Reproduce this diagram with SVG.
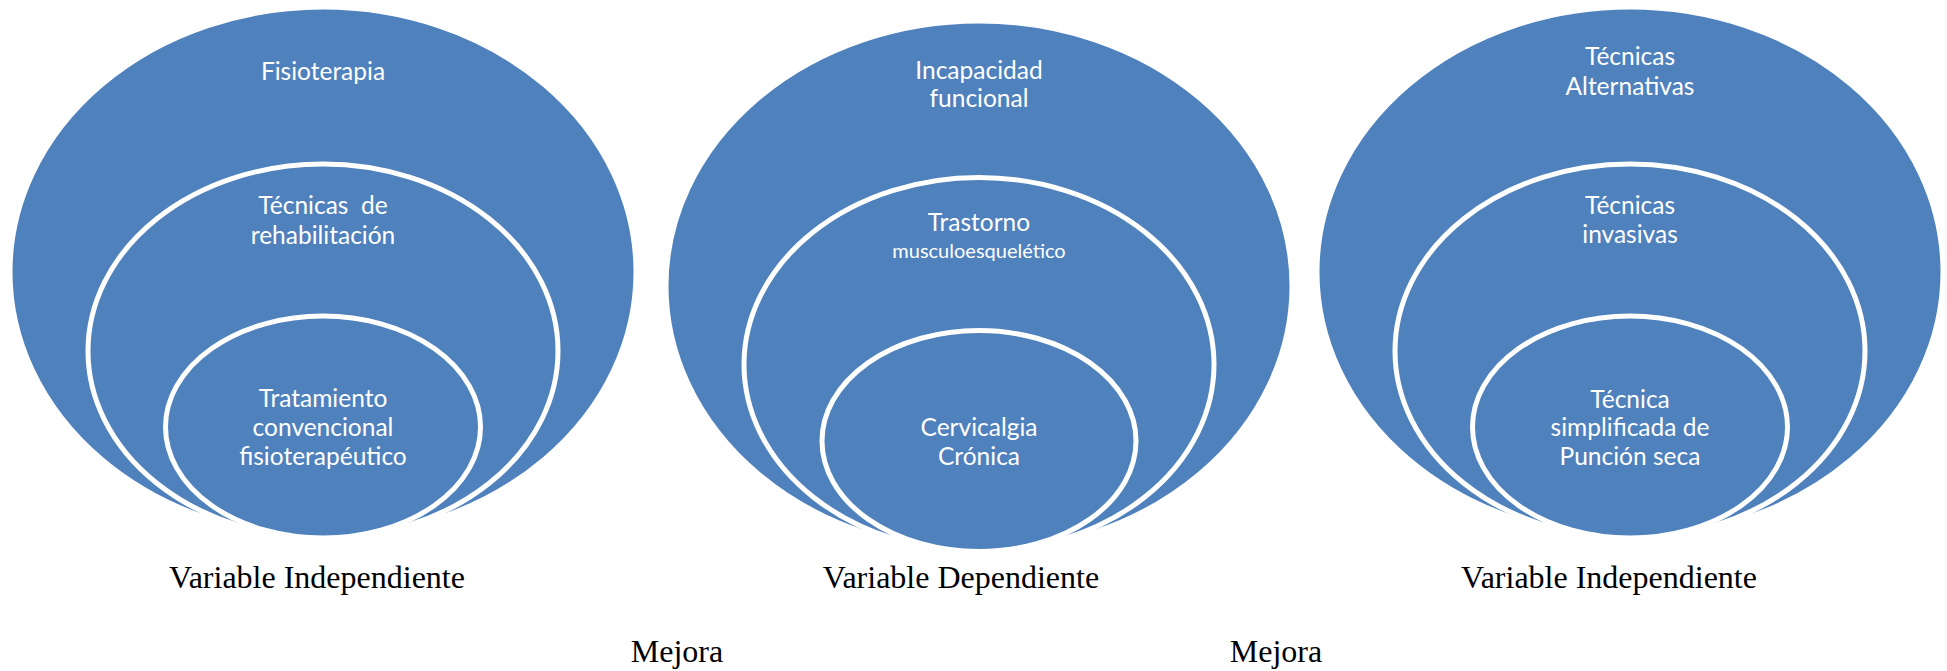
<svg xmlns="http://www.w3.org/2000/svg" width="1947" height="671" viewBox="0 0 1947 671">
<style>
.e{fill:#4F81BD;stroke:#FFFFFF;stroke-width:5}
.t{font-family:Lato,"Open Sans","Noto Sans",sans-serif;font-size:24.5px;fill:#FFFFFF;text-anchor:middle}
.s{font-size:20px}
.l{font-family:"Liberation Serif","Times New Roman",serif;font-size:32px;fill:#000000;text-anchor:middle}
</style>
<rect width="1947" height="671" fill="#FFFFFF"/>
<g id="left">
<g id="n-fisioterapia">
<ellipse class="e" cx="323" cy="272" rx="313" ry="265"/>
<text class="t" x="323" y="80">Fisioterapia</text>
</g>
<g id="n-tecnicas-rehab">
<ellipse class="e" cx="323" cy="351" rx="235" ry="187"/>
<text class="t" x="323" y="214" xml:space="preserve">Técnicas  de</text>
<text class="t" x="323" y="243.5">rehabilitación</text>
</g>
<g id="n-tratamiento">
<ellipse class="e" cx="323" cy="427" rx="157.5" ry="111"/>
<text class="t" x="323" y="407">Tratamiento</text>
<text class="t" x="323" y="436">convencional</text>
<text class="t" x="323" y="465">fisioterapéutico</text>
</g>
</g>
<g id="center">
<g id="n-incapacidad">
<ellipse class="e" cx="979" cy="286" rx="313" ry="265"/>
<text class="t" x="979" y="79">Incapacidad</text>
<text class="t" x="979" y="107">funcional</text>
</g>
<g id="n-trastorno">
<ellipse class="e" cx="979" cy="364.5" rx="235" ry="187"/>
<text class="t" x="979" y="231">Trastorno</text>
<text class="t s" x="979" y="257.5">musculoesquelético</text>
</g>
<g id="n-cervicalgia">
<ellipse class="e" cx="979" cy="441" rx="157" ry="110.5"/>
<text class="t" x="979" y="436">Cervicalgia</text>
<text class="t" x="979" y="465">Crónica</text>
</g>
</g>
<g id="right">
<g id="n-alternativas">
<ellipse class="e" cx="1630" cy="272" rx="313" ry="265"/>
<text class="t" x="1630" y="65">Técnicas</text>
<text class="t" x="1630" y="95">Alternativas</text>
</g>
<g id="n-invasivas">
<ellipse class="e" cx="1630" cy="351" rx="235" ry="187"/>
<text class="t" x="1630" y="214">Técnicas</text>
<text class="t" x="1630" y="243">invasivas</text>
</g>
<g id="n-puncion">
<ellipse class="e" cx="1630" cy="427" rx="157.5" ry="111"/>
<text class="t" x="1630" y="408">Técnica</text>
<text class="t" x="1630" y="436">simplificada de</text>
<text class="t" x="1630" y="465">Punción seca</text>
</g>
</g>
<g id="connectors"></g>
<g id="labels">
<text class="l" x="317" y="588">Variable Independiente</text>
<text class="l" x="961" y="588">Variable Dependiente</text>
<text class="l" x="1609" y="588">Variable Independiente</text>
<text class="l" x="677" y="662">Mejora</text>
<text class="l" x="1276" y="662">Mejora</text>
</g>
</svg>
